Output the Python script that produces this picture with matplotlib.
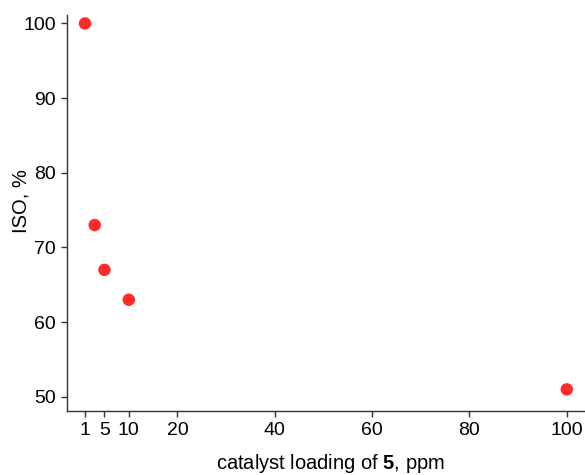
import matplotlib
matplotlib.use("Agg")
import matplotlib.pyplot as plt

# catalyst loading (ppm) vs ISO (%)
loading_ppm = [1, 3, 5, 10, 100]
iso_pct = [100, 73, 67, 63, 51]

x_ticks = [1, 5, 10, 20, 40, 60, 80, 100]
y_ticks = [50, 60, 70, 80, 90, 100]

plt.rcParams["font.family"] = ["Liberation Sans", "DejaVu Sans"]
plt.rcParams["mathtext.fontset"] = "custom"
plt.rcParams["mathtext.rm"] = "Liberation Sans"
plt.rcParams["mathtext.bf"] = "Liberation Sans:bold"

fig = plt.figure(figsize=(5.85, 4.75), dpi=100)
ax = fig.add_axes([0.1145, 0.1347, 0.8835, 0.8333])

ax.scatter(loading_ppm, iso_pct, s=80, color="#ff2a2a", edgecolors="none", zorder=3)

ax.set_xlim(-2.7, 103.5)
ax.set_ylim(48.1, 101.1)
ax.set_xticks(x_ticks)
ax.set_yticks(y_ticks)

for side in ("top", "right"):
    ax.spines[side].set_visible(False)
for side in ("left", "bottom"):
    ax.spines[side].set_linewidth(1.0)
    ax.spines[side].set_color("#333333")

ax.tick_params(direction="out", length=4, width=1.0, color="#333333",
               labelsize=14, pad=4)

ax.set_xlabel(r"catalyst loading of $\mathbf{5}$, ppm", fontsize=14.5, va="baseline")
ax.xaxis.set_label_coords(0.51, -0.146)
ax.set_ylabel("ISO, %", fontsize=14.5, va="center")
ax.yaxis.set_label_coords(-0.089, 0.53)

fig.savefig("out.png", dpi=100)
